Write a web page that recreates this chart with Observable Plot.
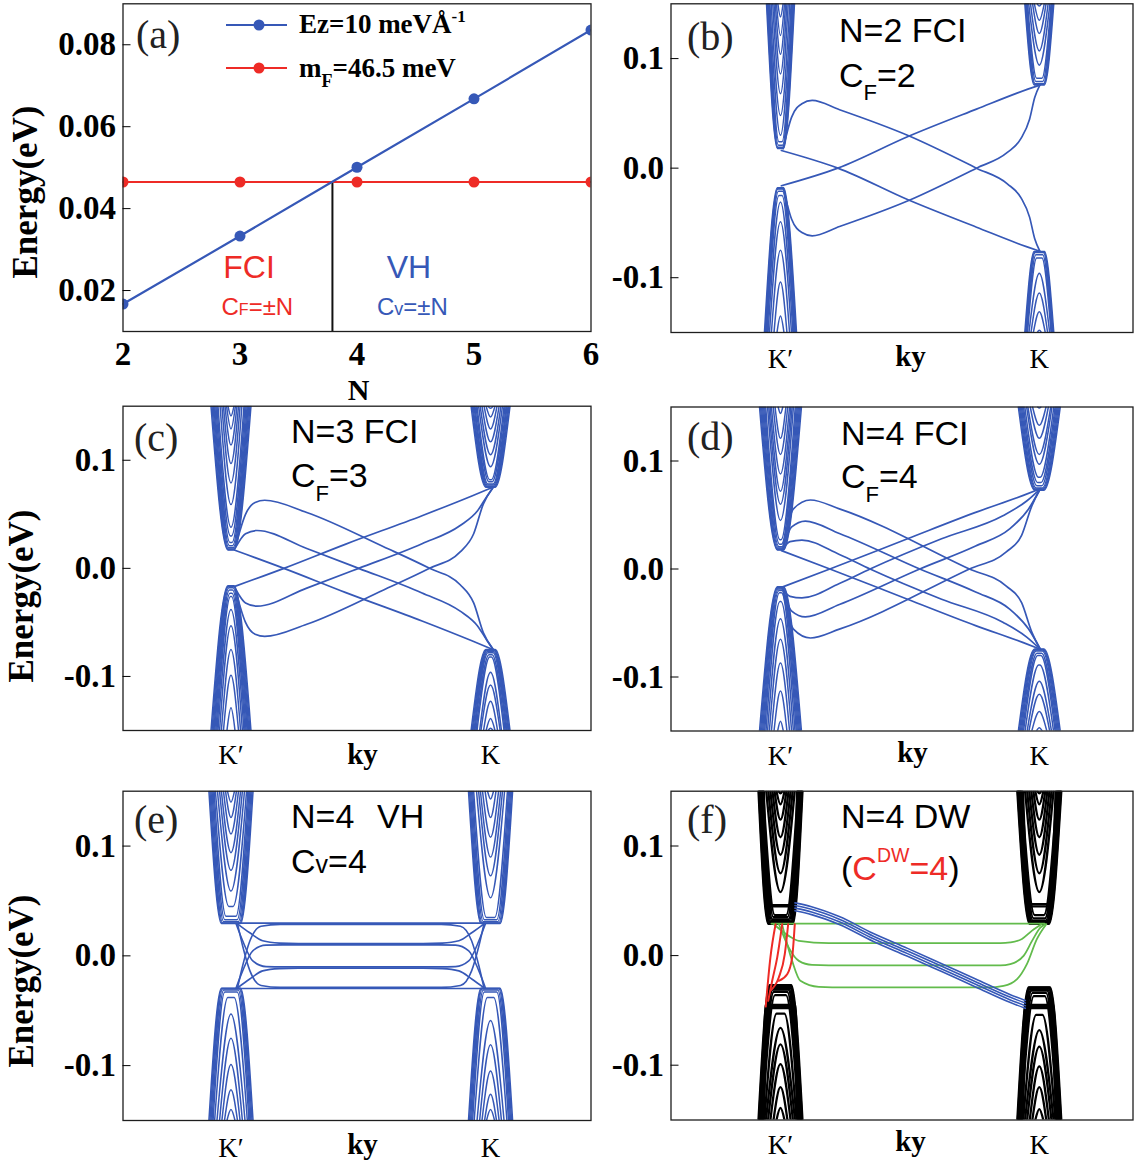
<!DOCTYPE html>
<html><head><meta charset="utf-8">
<script src="https://cdn.jsdelivr.net/npm/d3@7"></script>
<script src="https://cdn.jsdelivr.net/npm/@observablehq/plot@0.6"></script>
<style>
html,body{margin:0;padding:0;background:#fff;}
#fig{position:relative;width:1135px;height:1163px;overflow:hidden;background:#fff;}
#fig svg{display:block;}
.slot{position:absolute;}
#overlay{position:absolute;left:0;top:0;pointer-events:none;}
</style></head><body><div id="fig"></div>
<script>
// ---------------- colours & fonts
const blue = "#3658b7", red = "#ee2b26", green = "#62bb4c", black = "#000000";
const serif = "Liberation Serif, Times New Roman, serif";
const sans = "Liberation Sans, Arial, sans-serif";

// ---------------- panel (a) data
const nValues = [2, 3, 4, 5, 6];
const ezEnergy = [0.0167, 0.0333, 0.0501, 0.0668, 0.0836];
const mfEnergy = [0.0465, 0.0465, 0.0465, 0.0465, 0.0465];
const crossingN = 3.79;
const aXTicks = [2, 3, 4, 5, 6];
const aXTickLabels = ["2", "3", "4", "5", "6"];
const aYTicks = [0.02, 0.04, 0.06, 0.08];
const aYTickLabels = ["0.02", "0.04", "0.06", "0.08"];
const aYDomain = [0.01, 0.09];

// ---------------- band panels shared axes
const eDomain = [-0.15, 0.15];
const eTicks = [-0.1, 0, 0.1];
const eTickLabels = ["-0.1", "0.0", "0.1"];
const valleyTicks = [0, 1];
const valleyLabels = ["K′", "K"];

// bulk subbands: [band edge energy (eV), half-width at frame edge (ky), half-width of flat edge (ky)]
// ---- (b) N=2 FCI
const bKpCond = [[0.018,0.054,0.012],[0.0185,0.0515,0.011],[0.019,0.049,0.010],[0.021,0.046,0.008],[0.024,0.044,0.006],[0.030,0.041,0],[0.048,0.036,0],[0.068,0.030,0],[0.086,0.025,0],[0.104,0.020,0],[0.121,0.0155,0],[0.138,0.010,0]];
const bKpVal = [[-0.018,0.062,0.012],[-0.0185,0.059,0.011],[-0.019,0.0565,0.010],[-0.021,0.054,0.008],[-0.025,0.0515,0.006],[-0.031,0.048,0],[-0.049,0.0425,0],[-0.075,0.035,0],[-0.104,0.025,0],[-0.135,0.0135,0]];
const bKCond = [[0.076,0.056,0.020],[0.0765,0.053,0.018],[0.077,0.051,0.016],[0.079,0.048,0.013],[0.082,0.0455,0.010],[0.094,0.041,0],[0.107,0.034,0],[0.123,0.026,0],[0.135,0.019,0],[0.148,0.008,0]];
const bKVal = [[-0.076,0.056,0.020],[-0.0765,0.053,0.018],[-0.077,0.051,0.016],[-0.079,0.048,0.013],[-0.082,0.0455,0.010],[-0.096,0.040,0],[-0.114,0.032,0],[-0.131,0.023,0],[-0.148,0.008,0]];
// ---- (c) N=3 FCI
const cKpCond = [[0.017,0.077,0.012],[0.0175,0.073,0.011],[0.018,0.069,0.010],[0.019,0.0655,0.008],[0.021,0.062,0.006],[0.024,0.058,0.004],[0.030,0.054,0.002],[0.038,0.050,0],[0.059,0.042,0],[0.079,0.035,0],[0.097,0.029,0],[0.114,0.023,0],[0.129,0.017,0],[0.141,0.0115,0]];
const cKpVal = [[-0.016,0.077,0.012],[-0.0165,0.073,0.011],[-0.017,0.069,0.010],[-0.018,0.0655,0.008],[-0.020,0.062,0.006],[-0.023,0.058,0.004],[-0.026,0.054,0.002],[-0.038,0.050,0],[-0.053,0.044,0],[-0.075,0.037,0],[-0.099,0.029,0],[-0.129,0.0155,0]];
const cKCond = [[0.075,0.075,0.018],[0.0755,0.071,0.016],[0.076,0.0675,0.014],[0.077,0.0635,0.012],[0.078,0.060,0.010],[0.080,0.056,0.006],[0.082,0.052,0.003],[0.094,0.046,0],[0.105,0.040,0],[0.117,0.033,0],[0.129,0.025,0],[0.140,0.017,0],[0.148,0.0096,0]];
const cKVal = [[-0.075,0.075,0.018],[-0.0755,0.071,0.016],[-0.076,0.0675,0.014],[-0.077,0.0635,0.012],[-0.078,0.060,0.010],[-0.080,0.056,0.006],[-0.082,0.052,0.003],[-0.096,0.042,0],[-0.108,0.037,0],[-0.123,0.027,0],[-0.139,0.017,0],[-0.148,0.0096,0]];
// ---- (d) N=4 FCI
const dKpCond = [[0.0177,0.081,0.012],[0.018,0.077,0.011],[0.0185,0.073,0.010],[0.0195,0.069,0.008],[0.0207,0.065,0.006],[0.023,0.061,0.004],[0.027,0.057,0.002],[0.045,0.050,0],[0.060,0.045,0],[0.072,0.040,0],[0.088,0.035,0],[0.106,0.028,0],[0.121,0.021,0],[0.144,0.009,0]];
const dKpVal = [[-0.0164,0.081,0.012],[-0.017,0.077,0.011],[-0.0175,0.073,0.010],[-0.0185,0.069,0.008],[-0.020,0.065,0.006],[-0.022,0.061,0.004],[-0.030,0.056,0.002],[-0.046,0.050,0],[-0.065,0.043,0],[-0.087,0.035,0],[-0.113,0.025,0],[-0.141,0.011,0]];
const dKCond = [[0.073,0.081,0.018],[0.0735,0.077,0.016],[0.074,0.073,0.014],[0.075,0.069,0.012],[0.077,0.065,0.009],[0.080,0.061,0.006],[0.085,0.056,0.003],[0.097,0.049,0],[0.106,0.044,0],[0.121,0.035,0],[0.133,0.026,0],[0.149,0.006,0]];
const dKVal = [[-0.074,0.081,0.018],[-0.0745,0.077,0.016],[-0.075,0.073,0.014],[-0.076,0.069,0.012],[-0.078,0.065,0.009],[-0.080,0.061,0.006],[-0.089,0.055,0.002],[-0.104,0.047,0],[-0.116,0.040,0],[-0.132,0.029,0],[-0.147,0.011,0]];
// ---- (e) N=4 VH
const eKpCond = [[0.0295,0.085,0.037],[0.0297,0.081,0.035],[0.030,0.077,0.032],[0.031,0.073,0.028],[0.033,0.069,0.024],[0.036,0.065,0.019],[0.045,0.060,0.008],[0.059,0.052,0],[0.078,0.044,0],[0.094,0.037,0],[0.111,0.029,0],[0.126,0.021,0],[0.140,0.0135,0]];
const eKpVal = [[-0.0295,0.085,0.037],[-0.0297,0.081,0.035],[-0.030,0.077,0.032],[-0.031,0.073,0.028],[-0.033,0.069,0.024],[-0.038,0.063,0.012],[-0.053,0.054,0],[-0.075,0.044,0],[-0.099,0.035,0],[-0.122,0.025,0],[-0.140,0.0155,0]];
const eKCond = [[0.0295,0.085,0.037],[0.0297,0.081,0.035],[0.030,0.077,0.032],[0.031,0.073,0.028],[0.033,0.069,0.024],[0.035,0.065,0.016],[0.053,0.054,0],[0.073,0.046,0],[0.090,0.039,0],[0.108,0.031,0],[0.126,0.021,0],[0.143,0.0115,0]];
const eKVal = [[-0.0295,0.085,0.037],[-0.0297,0.081,0.035],[-0.030,0.077,0.032],[-0.031,0.073,0.028],[-0.033,0.069,0.024],[-0.038,0.063,0.012],[-0.059,0.052,0],[-0.081,0.042,0],[-0.105,0.033,0],[-0.126,0.023,0],[-0.140,0.0155,0]];
// ---- (f) N=4 DW
const fKpCond = [[0.029,0.085,0.048],[0.0292,0.083,0.046],[0.0295,0.081,0.044],[0.030,0.079,0.042],[0.0305,0.077,0.040],[0.031,0.075,0.037],[0.032,0.073,0.034],[0.033,0.071,0.031],[0.035,0.069,0.027],[0.037,0.067,0.022],[0.045,0.066,0.055],[0.046,0.064,0.050],[0.058,0.055,0],[0.075,0.047,0],[0.092,0.039,0],[0.108,0.031,0],[0.124,0.023,0],[0.138,0.0155,0],[0.148,0.0077,0]];
const fKpVal = [[-0.027,0.085,0.042],[-0.0275,0.083,0.040],[-0.028,0.081,0.038],[-0.029,0.079,0.036],[-0.030,0.077,0.033],[-0.031,0.075,0.030],[-0.033,0.073,0.026],[-0.036,0.071,0.021],[-0.045,0.069,0.058],[-0.046,0.067,0.054],[-0.048,0.065,0.046],[-0.053,0.062,0.015],[-0.066,0.056,0],[-0.081,0.048,0],[-0.099,0.039,0],[-0.120,0.027,0],[-0.139,0.0155,0]];
const fKCond = [[0.029,0.085,0.038],[0.0292,0.083,0.036],[0.0295,0.081,0.034],[0.030,0.079,0.032],[0.0305,0.077,0.030],[0.031,0.075,0.028],[0.032,0.073,0.025],[0.034,0.071,0.022],[0.037,0.069,0.018],[0.045,0.066,0.050],[0.047,0.063,0.040],[0.058,0.055,0],[0.075,0.047,0],[0.092,0.039,0],[0.108,0.031,0],[0.124,0.023,0],[0.138,0.0155,0],[0.148,0.0077,0]];
const fKVal = [[-0.029,0.085,0.042],[-0.0292,0.083,0.040],[-0.0295,0.081,0.038],[-0.030,0.079,0.036],[-0.031,0.077,0.033],[-0.032,0.075,0.030],[-0.034,0.073,0.026],[-0.037,0.071,0.021],[-0.045,0.069,0.055],[-0.046,0.067,0.050],[-0.048,0.065,0.042],[-0.054,0.062,0.012],[-0.068,0.055,0],[-0.083,0.047,0],[-0.101,0.037,0],[-0.120,0.027,0],[-0.140,0.0155,0]];

// edge-state curves: [ky, E]
// ---- (b)
const bEdgeA = [[0.0034,0.0161],[0.2216,0],[0.4929,-0.0289],[0.7574,-0.0539],[0.9558,-0.0721],[1.002,-0.0758]];
const bEdgeB = [[0.0034,-0.0161],[0.2216,0],[0.4929,0.0289],[0.7574,0.0539],[0.9558,0.0721],[1.002,0.0758]];
const bEdgeC = [[0.0101,0.0177],[0.0431,0.0466],[0.0828,0.0588],[0.1225,0.0618],[0.2283,0.0533],[0.4929,0.0298],[0.7574,0],[0.8765,-0.0143],[0.9294,-0.0271],[0.9624,-0.0447],[0.9823,-0.0645],[1.002,-0.0758]];
const bEdgeD = [[0.0101,-0.0177],[0.0431,-0.0466],[0.0828,-0.0588],[0.1225,-0.0618],[0.2283,-0.0533],[0.4929,-0.0298],[0.7574,0],[0.8765,0.0143],[0.9294,0.0271],[0.9624,0.0447],[0.9823,0.0645],[1.002,0.0758]];
// ---- (c)
const cEdgeA1 = [[0.015,0.0167],[0.204,0],[0.440,-0.0222],[0.736,-0.0487],[0.928,-0.067],[1.004,-0.0746]];
const cEdgeA2 = [[0.019,0.0198],[0.056,0.032],[0.100,0.035],[0.292,0.0183],[0.492,0],[0.736,-0.0228],[0.883,-0.0396],[0.950,-0.0533],[0.987,-0.067],[1.009,-0.0746]];
const cEdgeA3 = [[0.019,0.0213],[0.056,0.050],[0.093,0.061],[0.130,0.063],[0.292,0.0517],[0.588,0.020],[0.765,0],[0.883,-0.0152],[0.935,-0.032],[0.972,-0.0594],[1.009,-0.0746]];
const cEdgeB1 = [[0.015,-0.0167],[0.204,0],[0.440,0.0222],[0.736,0.0487],[0.928,0.067],[1.004,0.0746]];
const cEdgeB2 = [[0.019,-0.0198],[0.056,-0.032],[0.100,-0.035],[0.292,-0.0183],[0.492,0],[0.736,0.0228],[0.883,0.0396],[0.950,0.0533],[0.987,0.067],[1.009,0.0746]];
const cEdgeB3 = [[0.019,-0.0213],[0.056,-0.050],[0.093,-0.061],[0.130,-0.063],[0.292,-0.0517],[0.588,-0.020],[0.765,0],[0.883,0.0152],[0.935,0.032],[0.972,0.0594],[1.009,0.0746]];
// ---- (d)
const dEdgeA1 = [[0.0039,0.0170],[0.1908,0],[0.4908,-0.0280],[0.7539,-0.0524],[0.9382,-0.0682],[1.0039,-0.0743]];
const dEdgeA2 = [[0.0066,0.0183],[0.0368,0.0253],[0.0829,0.0268],[0.2276,0.0135],[0.3461,0],[0.6224,-0.0280],[0.8592,-0.0493],[0.9513,-0.0630],[1.0039,-0.0743]];
const dEdgeA3 = [[0.0105,0.0201],[0.0434,0.0390],[0.0961,0.0444],[0.2276,0.0329],[0.5382,0],[0.7539,-0.0213],[0.8855,-0.0371],[0.9579,-0.0554],[1.0039,-0.0743]];
const dEdgeA4 = [[0.0105,0.0222],[0.0500,0.0557],[0.1158,0.0639],[0.2276,0.0557],[0.7303,0],[0.8724,-0.0158],[0.9316,-0.0311],[0.9711,-0.0584],[1.0039,-0.0743]];
const dEdgeB1 = [[0.0039,-0.0170],[0.1908,0],[0.4908,0.0280],[0.7539,0.0524],[0.9382,0.0682],[1.0039,0.0743]];
const dEdgeB2 = [[0.0066,-0.0183],[0.0368,-0.0253],[0.0829,-0.0268],[0.2276,-0.0135],[0.3461,0],[0.6224,0.0280],[0.8592,0.0493],[0.9513,0.0630],[1.0039,0.0743]];
const dEdgeB3 = [[0.0105,-0.0201],[0.0434,-0.0390],[0.0961,-0.0444],[0.2276,-0.0329],[0.5382,0],[0.7539,0.0213],[0.8855,0.0371],[0.9579,0.0554],[1.0039,0.0743]];
const dEdgeB4 = [[0.0105,-0.0222],[0.0500,-0.0557],[0.1158,-0.0639],[0.2276,-0.0557],[0.7303,0],[0.8724,0.0158],[0.9316,0.0311],[0.9711,0.0584],[1.0039,0.0743]];
// ---- (e)
const eEdge1 = [[0.03,0.0298],[0.97,0.0298]];
const eEdge2 = [[0.025,-0.0295],[0.045,-0.009],[0.073,0.0137],[0.116,0.027],[0.19,0.0287],[0.81,0.0287],[0.884,0.027],[0.927,0.0137],[0.955,-0.009],[0.975,-0.0295]];
const eEdge3 = [[0.026,0.029],[0.071,0.0213],[0.122,0.0137],[0.186,0.0116],[0.26,0.0112],[0.74,0.0112],[0.814,0.0116],[0.878,0.0137],[0.929,0.0213],[0.974,0.029]];
const eEdge4 = [[0.02,-0.029],[0.045,-0.0137],[0.084,0.0046],[0.135,0.0098],[0.2,0.0100],[0.8,0.0100],[0.865,0.0098],[0.916,0.0046],[0.955,-0.0137],[0.98,-0.029]];
const eEdge5 = [[0.02,0.029],[0.045,0.0137],[0.084,-0.0046],[0.135,-0.0098],[0.2,-0.0100],[0.8,-0.0100],[0.865,-0.0098],[0.916,-0.0046],[0.955,0.0137],[0.98,0.029]];
const eEdge6 = [[0.026,-0.029],[0.071,-0.0213],[0.122,-0.0137],[0.186,-0.0116],[0.26,-0.0112],[0.74,-0.0112],[0.814,-0.0116],[0.878,-0.0137],[0.929,-0.0213],[0.974,-0.029]];
const eEdge7 = [[0.025,0.0295],[0.045,0.009],[0.073,-0.0137],[0.116,-0.027],[0.19,-0.0287],[0.81,-0.0287],[0.884,-0.027],[0.927,-0.0137],[0.955,0.009],[0.975,0.0295]];
const eEdge8 = [[0.03,-0.0298],[0.97,-0.0298]];
// ---- (f)
const fGreen1 = [[-0.035,0.0292],[1.02,0.0292]];
const fGreen2 = [[-0.026,0.0286],[0.032,0.018],[0.071,0.0134],[0.187,0.0114],[0.85,0.0114],[0.888,0.0121],[0.933,0.0152],[0.972,0.0228],[1.01,0.0289]];
const fGreen3 = [[-0.006,0.0286],[0.032,0.0073],[0.071,-0.0048],[0.122,-0.0085],[0.251,-0.009],[0.85,-0.009],[0.888,-0.0078],[0.94,0.0],[0.972,0.0134],[1.004,0.0255],[1.023,0.0286]];
const fGreen4 = [[0.006,0.0286],[0.045,-0.0048],[0.077,-0.023],[0.148,-0.0285],[0.251,-0.029],[0.80,-0.029],[0.862,-0.0276],[0.914,-0.0215],[0.952,-0.0078],[0.991,0.0152],[1.027,0.0286]];
const fRed1 = [[-0.057,-0.0465],[-0.039,-0.0018],[-0.019,0.0286]];
const fRed2 = [[-0.0475,-0.0413],[-0.032,-0.023],[-0.0127,-0.0018],[0.0066,0.0286]];
const fRed3 = [[-0.0386,-0.032],[-0.0066,-0.020],[0.0166,0.0013],[0.0297,0.0286]];
const fRed4 = [[-0.0066,-0.023],[0.0259,-0.017],[0.045,-0.0018],[0.0552,0.0286]];
const fBlue1 = [[0.056,0.0481],[0.12,0.0446],[0.227,0.0356],[0.359,0.0201],[0.491,0.0066],[0.623,-0.0074],[0.754,-0.0214],[0.886,-0.0354],[0.946,-0.0409]];
const fBlue2 = [[0.056,0.0457],[0.12,0.0422],[0.227,0.0332],[0.359,0.0177],[0.491,0.0042],[0.623,-0.0098],[0.754,-0.0238],[0.886,-0.0378],[0.946,-0.0433]];
const fBlue3 = [[0.056,0.0433],[0.12,0.0398],[0.227,0.0308],[0.359,0.0153],[0.491,0.0018],[0.623,-0.0122],[0.754,-0.0262],[0.886,-0.0402],[0.946,-0.0457]];
const fBlue4 = [[0.056,0.0409],[0.12,0.0374],[0.227,0.0284],[0.359,0.0129],[0.491,-0.0006],[0.623,-0.0146],[0.754,-0.0286],[0.886,-0.0426],[0.946,-0.0481]];

// ---------------- helpers
const fig = document.getElementById("fig");
function place(node, left, top) {
  const d = document.createElement("div");
  d.className = "slot";
  d.style.left = left + "px"; d.style.top = top + "px";
  d.appendChild(node); fig.appendChild(d);
}
function bulkRows(bands, center, sign, tag) {
  const edge = sign > 0 ? eDomain[1] : eDomain[0];
  const rows = [];
  bands.forEach(([e, w, f], i) => {
    const pts = f > 0
      ? [[center - w, edge], [center - f, e], [center + f, e], [center + w, edge]]
      : [[center - w, edge], [center, e], [center + w, edge]];
    for (const [x, y] of pts) rows.push({x, y, id: tag + i});
  });
  return rows;
}
function curveRows(curves) {
  return curves.flatMap((c, i) => c.map(([x, y]) => ({x, y, id: i})));
}
const frameStyle = {stroke: "#1e1e1e", strokeWidth: 1.3};

// ---------------- panel (a)
{
  const ez = nValues.map((n, i) => ({n, e: ezEnergy[i]}));
  const mf = nValues.map((n, i) => ({n, e: mfEnergy[i]}));
  const p = Plot.plot({
    width: 600, height: 400,
    marginLeft: 122.5, marginRight: 9.5, marginTop: 3.3, marginBottom: 69,
    x: {domain: [2, 6], label: null},
    y: {domain: aYDomain, label: null},
    style: {background: "transparent", overflow: "visible", fontFamily: serif},
    marks: [
      Plot.ruleX([crossingN], {y1: aYDomain[0], y2: mfEnergy[0], stroke: "#111", strokeWidth: 2}),
      Plot.line(mf, {x: "n", y: "e", stroke: red, strokeWidth: 2.2, clip: true}),
      Plot.dot(mf, {x: "n", y: "e", r: 5.5, fill: red, clip: true}),
      Plot.line(ez, {x: "n", y: "e", stroke: blue, strokeWidth: 2.2, clip: true}),
      Plot.dot(ez, {x: "n", y: "e", r: 5.5, fill: blue, clip: true}),
      Plot.frame(frameStyle),
      Plot.axisY(aYTicks, {label: null, tickSize: -8, tickPadding: 15, tickFormat: d => aYTickLabels[aYTicks.indexOf(d)], fontSize: 33, fontWeight: "bold", fontFamily: serif, fill: "#000"}),
      Plot.axisX(aXTicks, {label: null, tickSize: 0, tickPadding: 10, tickFormat: d => aXTickLabels[aXTicks.indexOf(d)], fontSize: 33, fontWeight: "bold", fontFamily: serif, fill: "#000"}),
      Plot.text(["N"], {frameAnchor: "bottom", text: d => d, dy: 68, dx: 1.5, lineAnchor: "bottom", fontSize: 30, fontWeight: "bold", fontFamily: serif, fill: "#000"})
    ]
  });
  place(p, 0, 0);
}

// ---------------- band panels
const leftX = [-0.416, 1.387], rightX = [-0.423, 1.362];
const bandPanels = [
  {left: 600, top: 0, width: 535, height: 400, mt: 3.3, mb: 68, ml: 70.5, mr: 2.5, xd: rightX,
   bulk: [bKpCond, bKpVal, bKCond, bKVal], bulkColor: blue, bulkWidth: 1.5,
   edges: [{curves: [bEdgeA, bEdgeB, bEdgeC, bEdgeD], color: blue, width: 1.7}],
   kPad: 16, kyDy: 33, kyDx: 8.5},
  {left: 0, top: 395, width: 600, height: 390, mt: 10.7, mb: 55, ml: 122.5, mr: 9.5, xd: leftX,
   bulk: [cKpCond, cKpVal, cKCond, cKVal], bulkColor: blue, bulkWidth: 1.5,
   edges: [{curves: [cEdgeA1, cEdgeA2, cEdgeA3, cEdgeB1, cEdgeB2, cEdgeB3], color: blue, width: 1.7}],
   kPad: 14, kyDy: 33, kyDx: 5.5},
  {left: 600, top: 395, width: 535, height: 390, mt: 11.5, mb: 54.5, ml: 70.5, mr: 2.5, xd: rightX,
   bulk: [dKpCond, dKpVal, dKCond, dKVal], bulkColor: blue, bulkWidth: 1.5,
   edges: [{curves: [dEdgeA1, dEdgeA2, dEdgeA3, dEdgeA4, dEdgeB1, dEdgeB2, dEdgeB3, dEdgeB4], color: blue, width: 1.7}],
   kPad: 15, kyDy: 31, kyDx: 10.5},
  {left: 0, top: 780, width: 600, height: 383, mt: 10.7, mb: 43, ml: 122.5, mr: 9.5, xd: leftX,
   bulk: [eKpCond, eKpVal, eKCond, eKVal], bulkColor: blue, bulkWidth: 1.5,
   edges: [{curves: [eEdge1, eEdge2, eEdge3, eEdge4, eEdge5, eEdge6, eEdge7, eEdge8], color: blue, width: 1.6}],
   kPad: 17, kyDy: 33, kyDx: 5.5},
  {left: 600, top: 780, width: 535, height: 383, mt: 10.7, mb: 43.5, ml: 70.5, mr: 2.5, xd: rightX,
   bulk: [fKpCond, fKpVal, fKCond, fKVal], bulkColor: black, bulkWidth: 2.3,
   edges: [
     {curves: [fGreen1, fGreen2, fGreen3, fGreen4], color: green, width: 1.8},
     {curves: [fRed1, fRed2, fRed3, fRed4], color: red, width: 2.0},
     {curves: [fBlue1, fBlue2, fBlue3, fBlue4], color: blue, width: 1.6}],
   kPad: 14.5, kyDy: 31, kyDx: 8.5}
];

for (const P of bandPanels) {
  const [kpC, kpV, kC, kV] = P.bulk;
  const bulk = [
    ...bulkRows(kpC, valleyTicks[0], 1, "a"), ...bulkRows(kpV, valleyTicks[0], -1, "b"),
    ...bulkRows(kC, valleyTicks[1], 1, "c"), ...bulkRows(kV, valleyTicks[1], -1, "d")];
  const plot = Plot.plot({
    width: P.width, height: P.height,
    marginLeft: P.ml, marginRight: P.mr, marginTop: P.mt, marginBottom: P.mb,
    x: {domain: P.xd, label: null},
    y: {domain: eDomain, label: null},
    style: {background: "transparent", overflow: "visible", fontFamily: serif},
    marks: [
      Plot.line(bulk, {x: "x", y: "y", z: "id", stroke: P.bulkColor, strokeWidth: P.bulkWidth, curve: "monotone-x", clip: true}),
      ...P.edges.map(s => Plot.line(curveRows(s.curves), {x: "x", y: "y", z: "id", stroke: s.color, strokeWidth: s.width, curve: "monotone-x", clip: true})),
      Plot.frame(frameStyle),
      Plot.axisY(eTicks, {label: null, tickSize: -8, tickPadding: 15, tickFormat: d => eTickLabels[eTicks.indexOf(d)], fontSize: 33, fontWeight: "bold", fontFamily: serif, fill: "#000"}),
      Plot.axisX(valleyTicks, {label: null, tickSize: 0, tickPadding: P.kPad, tickFormat: d => valleyLabels[valleyTicks.indexOf(d)], fontSize: 27, fontFamily: serif, fill: "#000"}),
      Plot.text(["ky"], {frameAnchor: "bottom", text: d => d, dy: P.kyDy, dx: P.kyDx, lineAnchor: "bottom", fontSize: 29, fontWeight: "bold", fontFamily: serif, fill: "#000"})
    ]
  });
  place(plot, P.left, P.top);
}

// ---------------- annotations overlay
const ov = `
<svg id="overlay" width="1135" height="1163" xmlns="http://www.w3.org/2000/svg">
  <g font-family="${serif}" font-size="40" fill="#222">
    <text x="136" y="48">(a)</text>
    <text x="687" y="50">(b)</text>
    <text x="134" y="451">(c)</text>
    <text x="687" y="450">(d)</text>
    <text x="134" y="833">(e)</text>
    <text x="687" y="833">(f)</text>
  </g>
  <g font-family="${serif}" font-size="35" font-weight="bold" fill="#000" text-anchor="middle">
    <text transform="translate(37,192) rotate(-90)">Energy(eV)</text>
    <text transform="translate(33,596) rotate(-90)">Energy(eV)</text>
    <text transform="translate(33,981) rotate(-90)">Energy(eV)</text>
  </g>
  <line x1="226" y1="25" x2="287" y2="25" stroke="${blue}" stroke-width="2.2"/>
  <circle cx="259" cy="25" r="5.5" fill="${blue}"/>
  <line x1="226" y1="68" x2="287" y2="68" stroke="${red}" stroke-width="2.2"/>
  <circle cx="259" cy="68" r="5.5" fill="${red}"/>
  <g font-family="${serif}" font-size="27" font-weight="bold" fill="#000">
    <text x="299" y="33">Ez=10 meVÅ<tspan font-size="17" dy="-11">-1</tspan></text>
    <text x="299" y="77">m<tspan font-size="18" dy="10">F</tspan><tspan dy="-10">=46.5 meV</tspan></text>
  </g>
  <g font-family="${sans}">
    <text x="249" y="278" font-size="32" fill="${red}" text-anchor="middle">FCI</text>
    <text x="221.5" y="315" font-size="24" fill="${red}">C<tspan font-size="16">F</tspan>=±N</text>
    <text x="409" y="278" font-size="32" fill="${blue}" text-anchor="middle">VH</text>
    <text x="377" y="315" font-size="24" fill="${blue}">C<tspan font-size="18">v</tspan>=±N</text>
  </g>
  <g font-family="${sans}" font-size="34" fill="#000">
    <text x="839" y="42">N=2 FCI</text>
    <text x="839" y="87">C<tspan font-size="22" dy="13">F</tspan><tspan dy="-13">=2</tspan></text>
    <text x="291" y="443">N=3 FCI</text>
    <text x="291" y="487">C<tspan font-size="22" dy="14">F</tspan><tspan dy="-14">=3</tspan></text>
    <text x="841" y="445">N=4 FCI</text>
    <text x="841" y="488">C<tspan font-size="22" dy="14">F</tspan><tspan dy="-14">=4</tspan></text>
    <text x="291" y="828">N=4</text>
    <text x="377" y="828">VH</text>
    <text x="291" y="873">C<tspan font-size="25">v</tspan>=4</text>
    <text x="841" y="828">N=4 DW</text>
    <text x="841" y="880">(<tspan fill="${red}">C</tspan><tspan fill="${red}" font-size="19.5" dy="-18">DW</tspan><tspan fill="${red}" dy="18">=4</tspan>)</text>
  </g>
</svg>`;
fig.insertAdjacentHTML("beforeend", ov);
</script></body></html>
